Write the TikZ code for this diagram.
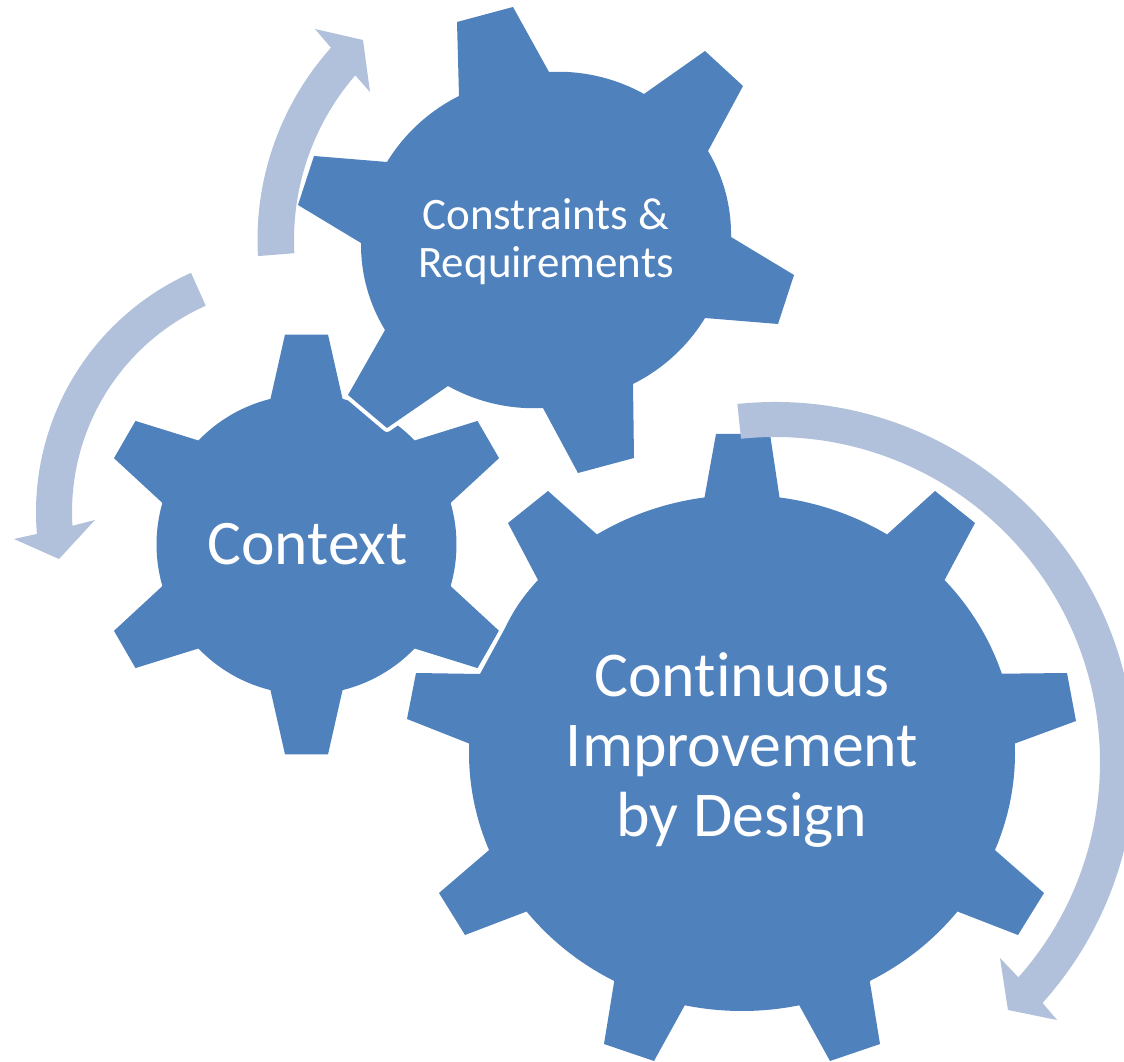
\documentclass[tikz,border=0pt]{standalone}
\usepackage{fontspec}
\setmainfont[Ligatures=NoCommon]{Carlito}
\definecolor{gearblue}{HTML}{4F81BD}
\definecolor{arrowblue}{HTML}{B2C1DB}
\tikzset{
  gearplain/.style={fill=gearblue},
  gearhalo/.style={fill=gearblue,preaction={draw=white,line width=8pt,line join=round}},
  arrowfill/.style={fill=arrowblue},
  rootarc/.style={bend left=16,looseness=0.87},
  label/.style={text=white,align=center,inner sep=0pt},
}
\newcommand{\rootB}[2]{(#1:273pt and 258pt) arc[start angle=#1,end angle=#2,x radius=273pt,y radius=258pt]}
\begin{document}
\begin{tikzpicture}[x=1pt,y=1pt]
\useasboundingbox (0,0) rectangle (1124,1061);
\clip (0,0) rectangle (1124,1061);
\fill[white] (0,0) rectangle (1124,1061);
% Context gear
\begin{scope}[shift={(306.5,516.5)}]
  \path[gearplain] (76.1:150pt)
    \foreach \a in {30,-30,-90,-150,-210,-270} {
      arc[start angle={\a+60-13.9},end angle={\a+13.9},radius=150pt]
      -- ({\a+5.85}:211pt) -- ({\a-5.85}:211pt) -- ({\a-13.9}:150pt)
    } -- cycle;
\end{scope}
% Constraints gear
\begin{scope}[shift={(546,821)}]
  \path[gearhalo] (3,168) to[rootarc] (98,146) -- (159,189) -- (197,154)
    -- (162,89) to[rootarc] (185,3) -- (248,-35) -- (232,-84)
    -- (159,-78) to[rootarc] (87,-144) -- (88,-218) -- (32,-233)
    -- (-3,-168) to[rootarc] (-98,-146) -- (-159,-188) -- (-198,-155)
    -- (-161,-90) to[rootarc] (-185,-3) -- (-248,35) -- (-232,84)
    -- (-159,78) to[rootarc] (-87,144) -- (-89,218) -- (-33,233) -- cycle;
\end{scope}
% Continuous gear
\begin{scope}[shift={(742,308)}]
  \path[gearhalo] \rootB{82.1}{57.9} -- (193,262) -- (233,230)
    -- \rootB{42.1}{17.9} -- (325,80) -- (334,32)
    -- \rootB{2.1}{-22.1} -- (302,-140) -- (276,-182)
    -- \rootB{-37.9}{-62.1} -- (138,-291) -- (88,-308)
    -- \rootB{-77.9}{-102.1} -- (-88,-308) -- (-138,-291)
    -- \rootB{-117.9}{-142.1} -- (-277,-182) -- (-303,-140)
    -- \rootB{-157.9}{-182.1} -- (-335,34) -- (-326,80)
    -- (-262,79) -- (-238,123) to[bend left=8] (-204,173) -- (-234,230) -- (-194,262)
    -- \rootB{-237.9}{-262.1} -- (-26,319) -- (28,319) -- cycle;
\end{scope}
% arrows, over the gears
\fill[arrowfill] ([shift={(183.2:288.5pt)}]546,821) arc[start angle=183.2,end angle=138.2,radius=288.5pt]
  -- (315,1032) -- (363,1021) -- (370,969) -- ([shift={(139.2:252pt)}]546,821)
  arc[start angle=139.2,end angle=183,radius=252pt] -- cycle;
\fill[arrowfill] ([shift={(114.1:262pt)}]298,549) arc[start angle=114.1,end angle=184.8,radius=262pt]
  -- (14,522) -- (59,502) -- (95,541) -- ([shift={(183.5:226pt)}]298,549)
  arc[start angle=183.5,end angle=114.1,radius=226pt] -- cycle;
\fill[arrowfill] ([shift={(96:360pt)}]775,299) arc[start angle=96,end angle=-42,radius=360pt]
  -- (1057,41) -- (1008,51) -- (1000,103) -- ([shift={(-41.5:325pt)}]775,299)
  arc[start angle=-41.5,end angle=96,radius=325pt] -- cycle;
% labels
\node[label,font=\fontsize{45}{48.5}\selectfont] (cr) at (546,819.5) {Constraints \&\\Requirements};
\node[label,font=\fontsize{63.5}{68}\selectfont] (ctx) at (307.5,517) {Context};
\node[label,font=\fontsize{63.8}{70}\selectfont] (ci) at (742,311) {Continuous\\Improvement\\by Design};
\end{tikzpicture}
\end{document}
